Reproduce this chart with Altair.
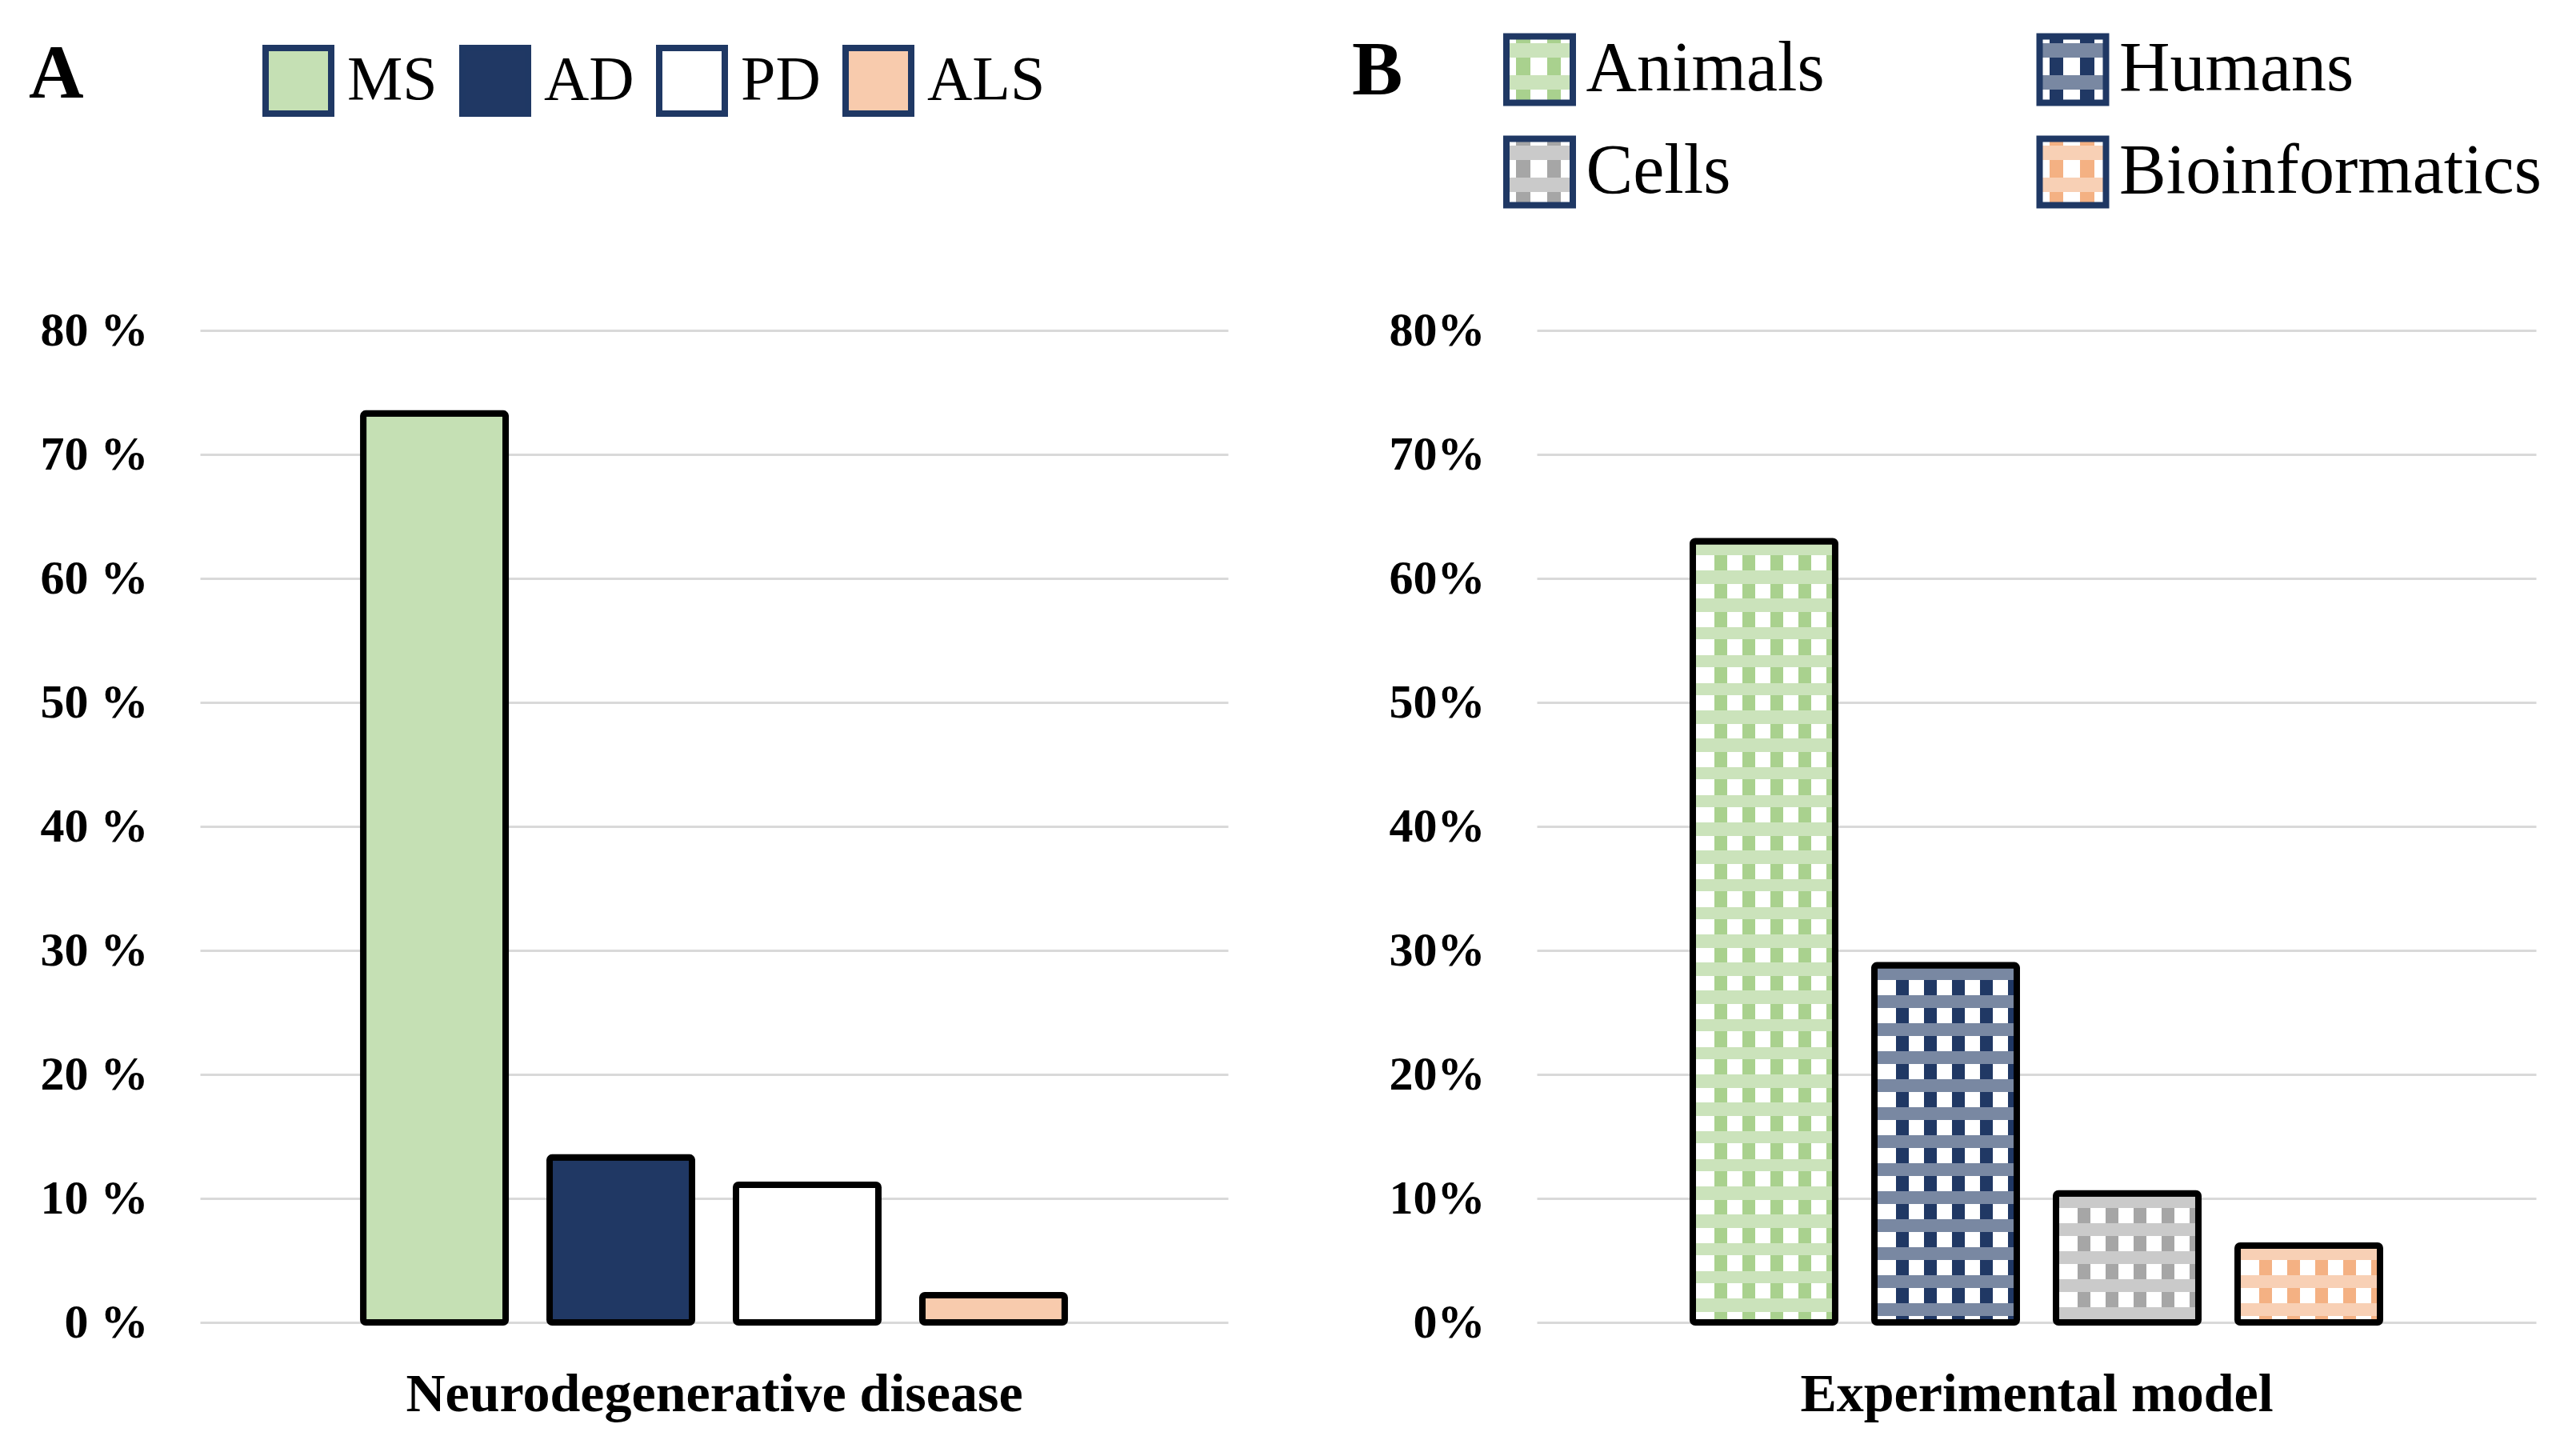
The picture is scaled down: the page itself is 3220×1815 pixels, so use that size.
import altair as alt
import pandas as pd

# ---------------- data ----------------
diseases = ["MS", "AD", "PD", "ALS"]
disease_pct = [73.3, 13.3, 11.1, 2.2]

models = ["Animals", "Humans", "Cells", "Bioinformatics"]
model_pct = [63.0, 28.8, 10.4, 6.2]

legend_col = [0, 1, 0, 1]
legend_row = [0, 0, 1, 1]

y_ticks = [0, 10, 20, 30, 40, 50, 60, 70, 80]

# ---------------- styles ----------------
disease_colors = ["#c5e0b4", "#203864", "#ffffff", "#f8cbad"]
model_colors = ["#a9d18e", "#203864", "#a6a6a6", "#f4b183"]
FONT = "Liberation Serif"
NAVY_EDGE = "#1f3864"
GRID = "#d9d9d9"
PLOT_H = 1240
A_W = 1285
B_W = 1249
Y_MAX = 80
STROKE_W = 8

# pattern geometry (px)
PERIOD = 35
STRIPE = 16
STRIPE_PHASE = 27
BAND_PHASE = 2

WHITE = "#ffffff"
CLEAR = "rgba(255,255,255,0)"


def mix(c, t=0.6):
    r, g, b = int(c[1:3], 16), int(c[3:5], 16), int(c[5:7], 16)
    return "#%02x%02x%02x" % (round(r * t + 255 * (1 - t)),
                              round(g * t + 255 * (1 - t)),
                              round(b * t + 255 * (1 - t)))


def grad(stops, vertical):
    return {"gradient": "linear", "x1": 0, "y1": 0,
            "x2": 0 if vertical else 1, "y2": 1 if vertical else 0,
            "stops": [{"offset": round(o, 5), "color": c} for o, c in stops]}


def band_stops(total, phase, width, period, on, off):
    stops = [(0, off)]
    p = phase
    while p < total:
        a = p / total
        b = min(p + width, total) / total
        stops += [(a, off), (a, on), (b, on), (b, off)]
        p += period
    stops.append((1, off))
    return stops


def frac_stops(intervals, on, off):
    stops = [(0, off)]
    for a, b in intervals:
        stops += [(a, off), (a, on), (b, on), (b, off)]
    stops.append((1, off))
    return stops


def y_axis(sfx):
    return alt.Axis(values=y_ticks, labelExpr="datum.value + '" + sfx + "'",
                    grid=True, gridColor=GRID, gridWidth=3, domain=False, ticks=False,
                    labelFont=FONT, labelFontSize=60, labelFontWeight="bold",
                    labelColor="black", labelPadding=65, title=None)


def x_axis(title):
    return alt.Axis(labels=False, ticks=False, domain=False, grid=False,
                    title=title, titleFont=FONT, titleFontSize=68,
                    titleFontWeight="bold", titleColor="black", titlePadding=56)


# ---------------- panel A ----------------
dfA = pd.DataFrame({"disease": diseases, "pct": disease_pct})

xA = alt.X("disease:N",
           scale=alt.Scale(domain=diseases, paddingInner=0.236, paddingOuter=0.876),
           axis=x_axis("Neurodegenerative disease"))
yA = alt.Y("pct:Q", scale=alt.Scale(domain=[0, Y_MAX], nice=False), axis=y_axis(" %"))

fillA = alt.Chart(dfA).mark_bar(strokeWidth=0).encode(
    x=xA, y=yA,
    fill=alt.Fill("disease:N",
                  scale=alt.Scale(domain=diseases, range=disease_colors),
                  legend=alt.Legend(orient="none", legendX=78, legendY=-357,
                                    direction="horizontal", title=None,
                                    symbolType="square", symbolSize=82 * 82,
                                    symbolStrokeColor=NAVY_EDGE, symbolStrokeWidth=8,
                                    symbolOpacity=1, labelFont=FONT, labelFontSize=78,
                                    labelColor="black", labelOffset=16,
                                    columnPadding=15, padding=0, labelLimit=500)))
outlineA = alt.Chart(dfA).mark_bar(fill="transparent", stroke="black",
                                   strokeWidth=STROKE_W, cornerRadius=3).encode(x=xA, y=yA)

panelA = alt.layer(fillA, outlineA).properties(
    width=A_W, height=PLOT_H,
    title=alt.TitleParams("A", anchor="start", frame="group", font=FONT, fontSize=95,
                          fontWeight="bold", color="black", dx=-214, dy=-166, offset=0,
                          baseline="alphabetic"))

# ---------------- panel B ----------------
dfB = pd.DataFrame({"model": models, "pct": model_pct})
dfL = pd.DataFrame({"model": models, "col": legend_col, "row": legend_row})

piB, poB = 0.216, 0.859
stepB = B_W / (4 - piB + 2 * poB)
bwB = stepB * (1 - piB)

xB = alt.X("model:N",
           scale=alt.Scale(domain=models, paddingInner=piB, paddingOuter=poB),
           axis=x_axis("Experimental model"))
yB = alt.Y("pct:Q", scale=alt.Scale(domain=[0, Y_MAX], nice=False), axis=y_axis("%"))

bar_layers = []
for m, v, c in zip(models, model_pct, model_colors):
    h = v * PLOT_H / Y_MAX
    vg = grad(band_stops(bwB, STRIPE_PHASE, STRIPE, PERIOD, c, WHITE), vertical=False)
    hg = grad(band_stops(h, BAND_PHASE, STRIPE, PERIOD, mix(c), CLEAR), vertical=True)
    base = alt.Chart(dfB).transform_filter(alt.datum.model == m)
    bar_layers.append(base.mark_bar(fill=vg, strokeWidth=0).encode(x=xB, y=yB))
    bar_layers.append(base.mark_bar(fill=hg, strokeWidth=0).encode(x=xB, y=yB))
bar_layers.append(alt.Chart(dfB).mark_bar(fill="transparent", stroke="black",
                                          strokeWidth=STROKE_W, cornerRadius=3)
                  .encode(x=xB, y=yB))
barsB = alt.layer(*bar_layers)

legX = alt.X("col:Q", scale=alt.Scale(domain=[0, 1], range=[3.5, 670]), axis=None)
legY = alt.Y("row:Q", scale=alt.Scale(domain=[0, 1], range=[-326, -198]), axis=None)
SW = 83
leg_layers = []
for m, c in zip(models, model_colors):
    vg = grad(frac_stops([(0.15, 0.36), (0.61, 0.82)], c, WHITE), vertical=False)
    hg = grad(frac_stops([(0.10, 0.32), (0.58, 0.80)], mix(c), CLEAR), vertical=True)
    base = alt.Chart(dfL).transform_filter(alt.datum.model == m)
    leg_layers.append(base.mark_point(shape="square", size=SW * SW, filled=True,
                                      fill=vg, opacity=1, strokeWidth=0)
                      .encode(x=legX, y=legY))
    leg_layers.append(base.mark_point(shape="square", size=SW * SW, filled=True,
                                      fill=hg, opacity=1, strokeWidth=0)
                      .encode(x=legX, y=legY))
leg_layers.append(alt.Chart(dfL).mark_point(shape="square", size=SW * SW, filled=False,
                                            stroke=NAVY_EDGE, strokeWidth=8, opacity=1)
                  .encode(x=legX, y=legY))
leg_layers.append(alt.Chart(dfL).mark_text(align="left", baseline="middle", dx=58,
                                           font=FONT, fontSize=88, color="black")
                  .encode(x=legX, y=legY, text="model:N"))
legB = alt.layer(*leg_layers)

panelB = alt.layer(barsB, legB).resolve_scale(x="independent", y="independent").properties(
    width=B_W, height=PLOT_H,
    title=alt.TitleParams("B", anchor="start", frame="group", font=FONT, fontSize=95,
                          fontWeight="bold", color="black", dx=-231, dy=183, offset=0,
                          baseline="alphabetic"))

chart = alt.hconcat(panelA, panelB, spacing=386, bounds="flush").properties(
    padding={"left": 28, "top": 21, "right": 5, "bottom": 5}
).configure_view(stroke=None)

chart.save("out.html", embed_options={"renderer": "svg", "actions": False})
